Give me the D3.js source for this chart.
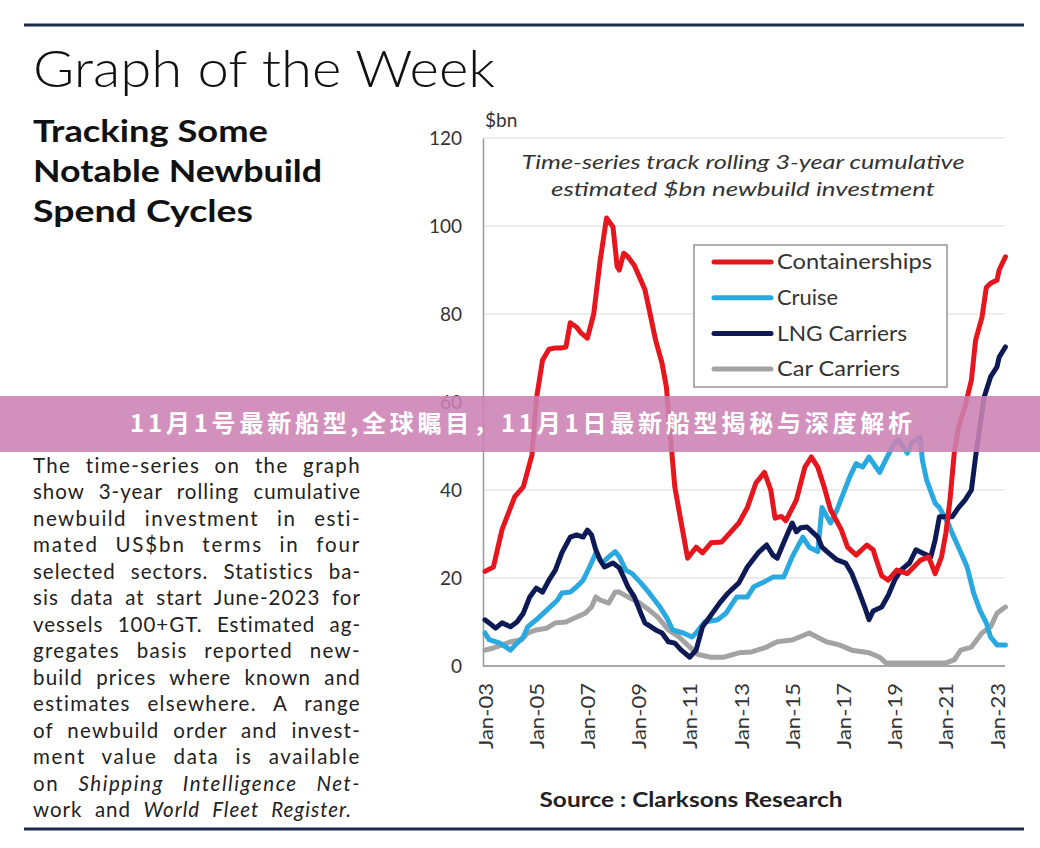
<!DOCTYPE html>
<html>
<head>
<meta charset="utf-8">
<script src="https://cdn.jsdelivr.net/npm/d3@7"></script>
<style>
  html, body { margin: 0; padding: 0; background: #fff; }
  svg { display: block; font-family: Lato, "Noto Sans", sans-serif; }
</style>
</head>
<body>
<div id="chart"></div>
<script>
// rolling 3-year cumulative newbuild investment, $bn
const containerships = [
  ["2003-01",21.5],["2003-05",22.5],["2003-09",31],["2004-03",38.5],["2004-07",40.7],["2004-11",48],
  ["2005-01",60.5],["2005-04",69.5],["2005-07",72],["2005-10",72.3],["2006-01",72.3],["2006-03",72.5],
  ["2006-05",78],["2006-08",77],["2006-10",75.7],["2007-01",74.5],["2007-04",80],["2007-07",92],
  ["2007-10",101.8],["2008-01",99.8],["2008-03",90.7],["2008-04",90],["2008-06",93.8],["2008-08",93],
  ["2008-11",91],["2009-02",87.7],["2009-04",85.5],["2009-06",81],["2009-09",74],["2009-12",68.8],
  ["2010-02",63.4],["2010-04",52],["2010-06",40.7],["2010-09",32.5],["2010-12",24.5],["2011-04",27],
  ["2011-07",25.7],["2011-11",28],["2012-04",28.2],["2012-07",29.8],["2012-12",32.5],["2013-04",36],
  ["2013-08",41.6],["2013-12",44],["2014-03",40],["2014-05",33.6],["2014-08",34],["2014-10",33],
  ["2015-03",37.7],["2015-07",45.2],["2015-10",47.5],["2016-01",45.2],["2016-04",40.7],["2016-07",35.5],
  ["2016-12",31],["2017-03",27],["2017-07",25.2],["2017-12",27.5],["2018-03",26.4],["2018-04",24.8],
  ["2018-07",20.5],["2018-10",19.5],["2019-02",21.8],["2019-07",21],["2020-01",24],["2020-05",24.8],
  ["2020-08",21],["2020-11",24.8],["2021-01",30.2],["2021-03",37.7],["2021-05",48.4],["2021-07",54.3],
  ["2021-10",58.9],["2022-01",65],["2022-03",74],["2022-06",79.3],["2022-08",86],["2022-10",87],
  ["2023-01",87.7],["2023-02",90],["2023-05",93]
];

const cruise = [
  ["2003-01",7.5],["2003-03",6],["2003-08",5.2],["2004-01",3.6],["2004-04",5.2],["2004-07",6.6],
  ["2004-09",8.9],["2005-01",10.5],["2005-06",12.7],["2005-11",15],["2006-01",16.6],["2006-05",16.8],
  ["2006-08",18],["2006-11",19.5],["2007-02",22.5],["2007-05",25.7],["2007-08",23.4],["2007-11",24.8],
  ["2008-02",26],["2008-04",24.8],["2008-07",21.8],["2008-10",21],["2009-02",18.9],["2009-06",16.6],
  ["2009-11",13.4],["2010-02",11.1],["2010-05",8.2],["2010-10",7.5],["2011-02",6.6],["2011-04",7.5],
  ["2011-08",10],["2012-02",10.5],["2012-06",12],["2012-11",15.7],["2013-04",15.7],["2013-07",18],
  ["2013-11",18.9],["2014-04",20.2],["2014-09",20.2],["2015-01",24.8],["2015-06",29.3],["2015-09",27],
  ["2016-01",26],["2016-03",36],["2016-07",32.5],["2016-10",35.5],["2017-01",39.3],["2017-04",43],
  ["2017-07",46],["2017-10",45.2],["2018-01",47.5],["2018-06",44],["2018-09",47],["2019-01",50.7],
  ["2019-03",51.4],["2019-07",48.4],["2019-09",50.7],["2020-01",52],["2020-02",46.8],["2020-04",42.3],
  ["2020-08",37],["2020-10",36],["2021-02",32.5],["2021-04",30.2],["2021-07",27],["2021-11",22.5],
  ["2022-02",16.6],["2022-05",12.7],["2022-08",9.8],["2022-10",6.6],["2023-01",4.8],["2023-05",4.8]
];

const lngCarriers = [
  ["2003-01",10.5],["2003-03",9.8],["2003-06",8.6],["2003-09",9.8],["2004-01",8.9],["2004-04",10],
  ["2004-07",12],["2004-10",15.7],["2005-01",17.7],["2005-04",16.8],["2005-07",19.5],["2005-10",21.8],
  ["2006-01",25.7],["2006-05",29.3],["2006-08",29.8],["2006-11",29.3],["2007-01",30.9],["2007-03",29.8],
  ["2007-05",26.4],["2007-07",24.1],["2007-09",22.5],["2008-01",23.4],["2008-04",22.3],["2008-06",20.2],
  ["2008-08",18],["2008-11",15.7],["2009-02",12],["2009-04",9.8],["2009-09",8.2],["2009-12",7.5],
  ["2010-03",5.5],["2010-06",5.2],["2010-09",3.6],["2011-01",2],["2011-04",3.6],["2011-07",8.9],
  ["2011-10",10.9],["2012-03",14.3],["2012-07",16.6],["2012-12",18.9],["2013-04",22.5],["2013-09",25.7],
  ["2014-01",27.5],["2014-04",25.2],["2014-06",24.5],["2014-09",28],["2015-01",32.5],["2015-03",30.5],
  ["2015-05",31.4],["2015-08",31.6],["2016-01",29.3],["2016-03",27],["2016-06",25.7],["2016-10",24.1],
  ["2017-02",23.4],["2017-05",21],["2017-08",17.3],["2017-11",13.4],["2018-01",10.5],["2018-03",12.5],
  ["2018-07",13.4],["2018-10",16],["2019-01",19.5],["2019-04",21.8],["2019-08",23.4],["2019-11",26.4],
  ["2020-02",25.7],["2020-06",24.8],["2020-08",28.6],["2020-10",33.9],["2021-01",33.9],["2021-04",33.9],
  ["2021-07",36],["2021-10",37.7],["2022-01",40],["2022-03",47.5],["2022-05",54.3],["2022-07",61.1],
  ["2022-10",65.7],["2023-01",68],["2023-02",70.2],["2023-05",72.5]
];

const carCarriers = [
  ["2003-01",3.6],["2003-05",4.1],["2003-09",4.8],["2004-01",5.5],["2004-06",5.9],["2004-09",7.5],
  ["2005-01",8.2],["2005-06",8.6],["2005-10",9.8],["2006-03",10],["2006-07",10.9],["2006-12",12],
  ["2007-03",13.4],["2007-05",15.7],["2007-07",15],["2007-11",14.3],["2008-02",16.8],["2008-04",16.8],
  ["2008-08",15.7],["2009-01",14.5],["2009-06",12.7],["2009-10",11.1],["2010-03",8.2],["2010-08",6.6],
  ["2011-01",4.3],["2011-05",2.6],["2011-11",2],["2012-05",2],["2012-12",3],["2013-06",3.2],
  ["2014-01",4.3],["2014-06",5.5],["2015-01",5.9],["2015-09",7.5],["2016-05",5.5],["2016-11",4.8],
  ["2017-05",3.6],["2018-01",3],["2018-06",2],["2018-09",0.7],["2019-06",0.7],["2020-04",0.7],
  ["2021-01",0.7],["2021-05",1.4],["2021-08",3.6],["2022-01",4.3],["2022-06",7.5],["2022-10",8.9],
  ["2023-01",12],["2023-05",13.4]
];

const seriesNames = ["Containerships", "Cruise", "LNG Carriers", "Car Carriers"];
const seriesColors = ["#e5161d", "#2aa9e0", "#0d1a55", "#a3a3a3"];
const seriesData = [containerships, cruise, lngCarriers, carCarriers];

const yTicks = [0, 20, 40, 60, 80, 100, 120];
const xTicks = ["2003-01","2005-01","2007-01","2009-01","2011-01","2013-01","2015-01","2017-01","2019-01","2021-01","2023-01"];

const paragraph = [
  [{t: "The time-series on the graph"}],
  [{t: "show 3-year rolling cumulative"}],
  [{t: "newbuild investment in esti-"}],
  [{t: "mated US$bn terms in four"}],
  [{t: "selected sectors. Statistics ba-"}],
  [{t: "sis data at start June-2023 for"}],
  [{t: "vessels 100+GT. Estimated ag-"}],
  [{t: "gregates basis reported new-"}],
  [{t: "build prices where known and"}],
  [{t: "estimates elsewhere. A range"}],
  [{t: "of newbuild order and invest-"}],
  [{t: "ment value data is available"}],
  [{t: "on "}, {t: "Shipping Intelligence Net-", i: true}],
  [{t: "work and "}, {t: "World Fleet Register.", i: true}]
];

const bannerText = "11月1号最新船型,全球瞩目，11月1日最新船型揭秘与深度解析";

const width = 1040, height = 848;
const parse = d3.timeParse("%Y-%m");

const svg = d3.select("#chart").append("svg")
    .attr("width", width)
    .attr("height", height)
    .attr("viewBox", `0 0 ${width} ${height}`);

// frame rules
svg.append("line").attr("x1", 24).attr("x2", 1024).attr("y1", 25).attr("y2", 25)
    .attr("stroke", "#1c2b4c").attr("stroke-width", 3);
svg.append("line").attr("x1", 24).attr("x2", 1024).attr("y1", 829).attr("y2", 829)
    .attr("stroke", "#1c2b4c").attr("stroke-width", 3);

// headings
svg.append("text").attr("x", 33).attr("y", 87)
    .attr("font-size", 51).attr("font-weight", 300).attr("fill", "#111")
    .attr("textLength", 462).attr("lengthAdjust", "spacingAndGlyphs")
    .text("Graph of the Week");

const sub = [["Tracking Some", 235], ["Notable Newbuild", 289], ["Spend Cycles", 220]];
svg.selectAll(".sub").data(sub).join("text")
    .attr("class", "sub")
    .attr("x", 33).attr("y", (d, i) => 142 + i * 40)
    .attr("font-size", 30).attr("font-weight", 700).attr("fill", "#111")
    .attr("textLength", d => d[1]).attr("lengthAdjust", "spacingAndGlyphs")
    .text(d => d[0]);

// justified paragraph: part of the slack goes to letters, the rest to word gaps
const paraWidth = 328;
const para = svg.selectAll(".para").data(paragraph).join("text")
    .attr("class", "para")
    .attr("x", 33).attr("y", (d, i) => 473 + i * 26.46)
    .attr("font-size", 20.5).attr("fill", "#222")
    .attr("xml:space", "preserve");
para.selectAll("tspan").data(d => d).join("tspan")
    .attr("font-style", d => d.i ? "italic" : null)
    .text(d => d.t);
para.each(function(d, i) {
    const str = d.map(s => s.t).join("");
    const natural = this.getComputedTextLength();
    const target = i === paragraph.length - 1 ? 319 : paraWidth;
    const slack = target - natural;
    if (slack <= 0) return;
    const ls = 0.55 * slack / str.length;
    d3.select(this).attr("letter-spacing", ls);
    const gaps = str.split(" ").length - 1;
    const rest = target - this.getComputedTextLength();
    if (gaps > 0 && rest > 0) d3.select(this).attr("word-spacing", rest / gaps);
});

// chart scales
const x = d3.scaleTime().domain([parse("2003-01"), parse("2023-01")]).range([485, 997]);
const y = d3.scaleLinear().domain([0, 120]).range([666, 138]);

// grid
svg.append("g").selectAll("line").data(yTicks.filter(d => d > 0)).join("line")
    .attr("x1", 483).attr("x2", 1005)
    .attr("y1", d => y(d)).attr("y2", d => y(d))
    .attr("stroke", "#dcdcdc").attr("stroke-width", 1.2);

// y axis
const yAxis = svg.append("g").attr("transform", "translate(483,0)")
    .call(d3.axisLeft(y).tickValues(yTicks).tickSize(0).tickPadding(21));
yAxis.select(".domain").attr("stroke", "#9a9a9a").attr("stroke-width", 1.5);
yAxis.selectAll("text").attr("font-size", 19).attr("fill", "#333").attr("font-family", "Lato, sans-serif");

// x axis
const xAxis = svg.append("g").attr("transform", "translate(0,666)")
    .call(d3.axisBottom(x).tickValues(xTicks.map(parse)).tickSize(0).tickFormat(d3.timeFormat("Jan-%y")));
xAxis.select(".domain").attr("d", "M483,0H1005").attr("stroke", "#8a8a8a").attr("stroke-width", 1.5);
xAxis.selectAll("text")
    .attr("transform", "rotate(-90)")
    .attr("x", -17).attr("y", 0).attr("dy", "0.35em")
    .attr("text-anchor", "end")
    .attr("font-size", 20).attr("fill", "#333").attr("font-family", "Lato, sans-serif")
    .attr("textLength", 66).attr("lengthAdjust", "spacingAndGlyphs");

svg.append("text").attr("x", 485).attr("y", 127)
    .attr("font-size", 19).attr("fill", "#333").text("$bn");

// annotation
const note = [["Time-series track rolling 3-year cumulative", 443], ["estimated $bn newbuild investment", 384]];
svg.selectAll(".note").data(note).join("text")
    .attr("class", "note")
    .attr("x", 743).attr("y", (d, i) => 169 + i * 27)
    .attr("text-anchor", "middle")
    .attr("font-size", 20).attr("font-style", "italic").attr("fill", "#333")
    .attr("textLength", d => d[1]).attr("lengthAdjust", "spacingAndGlyphs")
    .text(d => d[0]);

// series lines
const line = d3.line()
    .x(d => x(parse(d[0])))
    .y(d => y(d[1]));

const drawOrder = [3, 1, 2, 0];
svg.append("g").selectAll("path").data(drawOrder).join("path")
    .attr("d", i => line(seriesData[i]))
    .attr("fill", "none")
    .attr("stroke", i => seriesColors[i])
    .attr("stroke-width", 5)
    .attr("stroke-linejoin", "round")
    .attr("stroke-linecap", "round");

// legend
const legend = svg.append("g");
legend.append("rect").attr("x", 694).attr("y", 245).attr("width", 253).attr("height", 142)
    .attr("fill", "#fff").attr("stroke", "#7a7a7a").attr("stroke-width", 1.2);
const legendWidths = [155, 61, 130, 123];
const item = legend.selectAll(".item").data(seriesNames).join("g")
    .attr("class", "item")
    .attr("transform", (d, i) => `translate(0,${262 + i * 35.7})`);
item.append("line").attr("x1", 714).attr("x2", 771)
    .attr("stroke", (d, i) => seriesColors[i]).attr("stroke-width", 5).attr("stroke-linecap", "round");
item.append("text").attr("x", 777).attr("dy", "0.35em")
    .attr("font-size", 21).attr("fill", "#333")
    .attr("textLength", (d, i) => legendWidths[i]).attr("lengthAdjust", "spacingAndGlyphs")
    .text(d => d);

// source
svg.append("text").attr("x", 691).attr("y", 807)
    .attr("text-anchor", "middle")
    .attr("font-size", 20).attr("font-weight", 700).attr("fill", "#222")
    .attr("textLength", 303).attr("lengthAdjust", "spacingAndGlyphs")
    .text("Source : Clarksons Research");

// overlay banner
svg.append("rect").attr("x", 0).attr("y", 396).attr("width", width).attr("height", 56)
    .attr("fill", "#cc82b4").attr("opacity", 0.88);
svg.append("text").attr("x", 521).attr("y", 424).attr("dy", "0.35em")
    .attr("text-anchor", "middle")
    .attr("font-family", "'Noto Sans CJK SC', sans-serif")
    .attr("font-size", 24).attr("font-weight", 700).attr("fill", "#fff")
    .attr("textLength", 782).attr("lengthAdjust", "spacing")
    .text(bannerText);
</script>
</body>
</html>
